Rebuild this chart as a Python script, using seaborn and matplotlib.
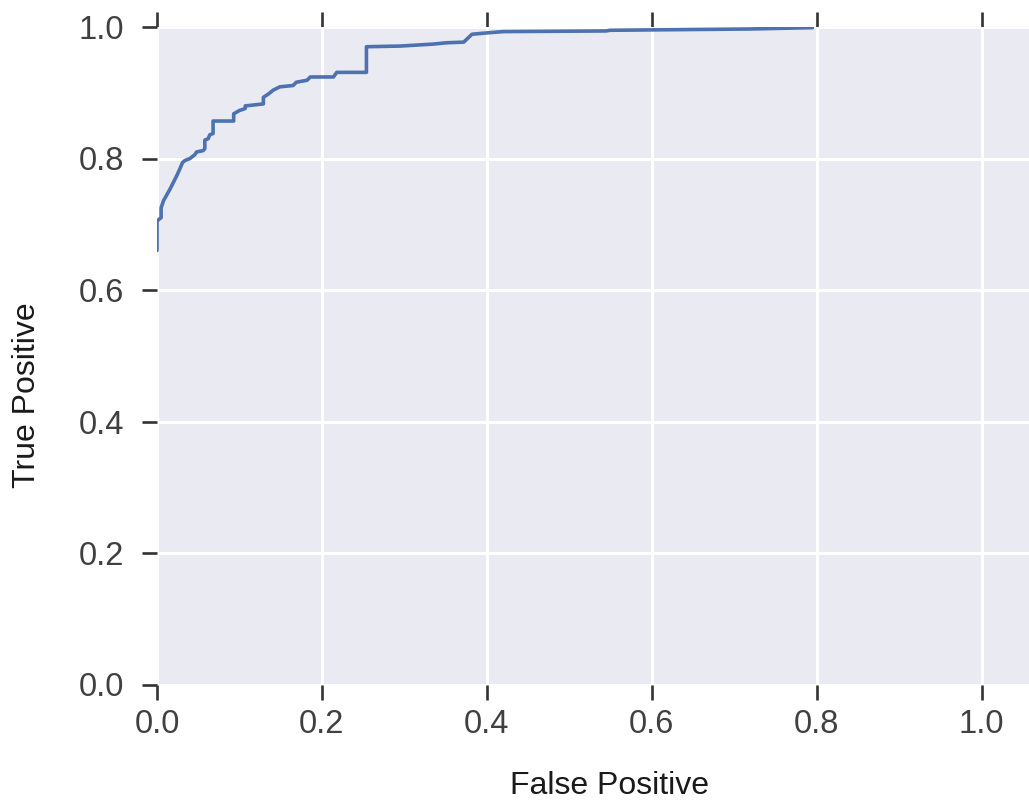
import matplotlib
matplotlib.use("Agg")
import matplotlib.pyplot as plt
import seaborn as sns
import pandas as pd

# ROC curve values
fpr = [0.000, 0.000, 0.005, 0.005, 0.008, 0.012, 0.016, 0.020, 0.024, 0.028,
       0.031, 0.034, 0.040, 0.046, 0.048, 0.056, 0.058, 0.058, 0.062, 0.064,
       0.068, 0.068, 0.093, 0.093, 0.100, 0.107, 0.107, 0.129, 0.129, 0.135,
       0.141, 0.149, 0.165, 0.169, 0.182, 0.186, 0.214, 0.218, 0.254, 0.254,
       0.295, 0.335, 0.351, 0.372, 0.382, 0.400, 0.420, 0.545, 0.549, 0.720,
       0.795]
tpr = [0.660, 0.705, 0.710, 0.725, 0.736, 0.745, 0.754, 0.764, 0.774, 0.785,
       0.794, 0.797, 0.800, 0.806, 0.810, 0.812, 0.815, 0.828, 0.830, 0.836,
       0.838, 0.857, 0.857, 0.868, 0.873, 0.876, 0.880, 0.883, 0.893, 0.898,
       0.904, 0.909, 0.911, 0.916, 0.919, 0.924, 0.924, 0.931, 0.931, 0.970,
       0.971, 0.974, 0.976, 0.977, 0.989, 0.991, 0.993, 0.994, 0.995, 0.997,
       0.999]
tick_values = [0.0, 0.2, 0.4, 0.6, 0.8, 1.0]
tick_labels = ["0.0", "0.2", "0.4", "0.6", "0.8", "1.0"]
x_label = "False Positive"
y_label = "True Positive"

sns.set_theme(style="darkgrid", rc={
    "axes.facecolor": "#EAEAF2",
    "grid.color": "white",
    "grid.linewidth": 2.2,
    "xtick.major.size": 10.5,
    "ytick.major.size": 10.5,
    "xtick.major.width": 1.9,
    "ytick.major.width": 1.9,
    "xtick.color": ".2",
    "ytick.color": ".2",
    "xtick.direction": "out",
    "ytick.direction": "out",
})
plt.rcParams["font.family"] = ["Liberation Sans", "DejaVu Sans"]

W, H = 1029, 801
fig = plt.figure(figsize=(W / 100, H / 100), dpi=100)
left, right, top, bottom = 157, 1064, 27, 684.5
ax = fig.add_axes([left / W, 1 - bottom / H, (right - left) / W, (bottom - top) / H])

df = pd.DataFrame({"fpr": fpr, "tpr": tpr})
sns.lineplot(data=df, x="fpr", y="tpr", sort=False, estimator=None, ax=ax,
             color="#4C72B0", linewidth=2.6)

ax.set_xlim(0, 1.1)
ax.set_ylim(0, 1.0)
ax.set_xticks(tick_values)
ax.set_xticklabels(tick_labels)
ax.set_yticks(tick_values)
ax.set_yticklabels(tick_labels)
ax.tick_params(axis="x", top=True, labeltop=False, bottom=True, labelsize=23.5,
               labelcolor=".25", pad=7)
ax.tick_params(axis="y", left=True, right=False, labelsize=23.5, labelcolor=".25", pad=13)
for s in ax.spines.values():
    s.set_visible(False)

ax.set_xlabel(x_label, fontsize=23, color=".1", va="center")
ax.set_ylabel(y_label, fontsize=23, color=".1", va="center")
ax.xaxis.set_label_coords(609.5 / W, 1 - 786 / H, transform=fig.transFigure)
ax.yaxis.set_label_coords(27 / W, 1 - 395 / H, transform=fig.transFigure)

fig.savefig("out.png", dpi=100)
